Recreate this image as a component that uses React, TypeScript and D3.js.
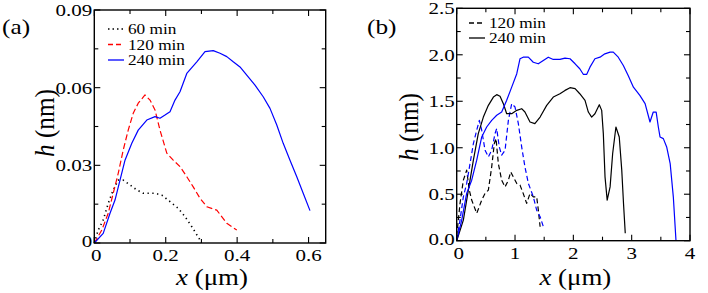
import React from "react";
import * as d3 from "d3";

type P = [number, number];

// Panel (a)
const a60: P[] = [[0,0],[0.011,0.005],[0.025,0.0089],[0.039,0.0153],[0.053,0.0205],[0.067,0.0243],[0.081,0.0243],[0.1,0.0224],[0.119,0.0205],[0.137,0.0192],[0.17,0.0192],[0.189,0.0185],[0.212,0.016],[0.235,0.0134],[0.254,0.0102],[0.273,0.0063],[0.296,0.0012],[0.3,0]];
const a120: P[] = [[0,0],[0.021,0.005],[0.039,0.0115],[0.053,0.0192],[0.067,0.0269],[0.081,0.0359],[0.095,0.0436],[0.109,0.0501],[0.123,0.054],[0.142,0.0572],[0.156,0.0552],[0.17,0.0514],[0.184,0.0436],[0.203,0.0347],[0.221,0.032],[0.24,0.0295],[0.259,0.0256],[0.277,0.0217],[0.296,0.0173],[0.315,0.014],[0.343,0.0127],[0.371,0.0076],[0.399,0.005]];
const a240: P[] = [[0,0],[0.025,0.0037],[0.044,0.0115],[0.058,0.0166],[0.072,0.0243],[0.086,0.032],[0.105,0.0385],[0.123,0.0436],[0.147,0.0475],[0.17,0.0488],[0.184,0.0482],[0.198,0.0494],[0.212,0.0507],[0.226,0.0552],[0.24,0.0584],[0.259,0.0655],[0.287,0.07],[0.31,0.0739],[0.333,0.0743],[0.352,0.0733],[0.371,0.072],[0.389,0.07],[0.408,0.068],[0.431,0.0642],[0.45,0.061],[0.473,0.0565],[0.492,0.052],[0.511,0.0456],[0.529,0.0385],[0.548,0.032],[0.567,0.0256],[0.585,0.0192],[0.604,0.0125]];

// Panel (b)
const b120black: P[] = [[0,0.05],[0.057,0.401],[0.114,0.651],[0.171,0.759],[0.216,0.544],[0.257,0.437],[0.343,0.294],[0.429,0.437],[0.486,0.509],[0.543,0.544],[0.6,0.794],[0.645,1.045],[0.674,1.098],[0.714,0.83],[0.771,0.651],[0.829,0.579],[0.886,0.651],[0.926,0.74],[0.97,0.687],[1.03,0.616],[1.086,0.598],[1.14,0.509],[1.2,0.401],[1.257,0.509],[1.314,0.472],[1.371,0.472],[1.4,0.329],[1.43,0.15]];
const b120blue: P[] = [[0,0.01],[0.057,0.222],[0.114,0.472],[0.171,0.616],[0.229,0.83],[0.286,1.045],[0.343,1.188],[0.388,1.295],[0.429,1.188],[0.486,0.973],[0.543,0.902],[0.6,0.973],[0.657,1.152],[0.686,1.206],[0.73,1.009],[0.771,0.92],[0.829,0.973],[0.886,1.295],[0.943,1.474],[1.0,1.438],[1.057,1.259],[1.114,1.009],[1.17,0.794],[1.229,0.616],[1.314,0.472],[1.371,0.329],[1.43,0.258],[1.486,0.15]];
const b240black: P[] = [[0,0],[0.114,0.222],[0.2,0.544],[0.286,0.866],[0.37,1.152],[0.457,1.33],[0.543,1.456],[0.629,1.545],[0.686,1.571],[0.743,1.553],[0.8,1.474],[0.857,1.366],[0.943,1.366],[1.03,1.402],[1.114,1.42],[1.17,1.384],[1.257,1.277],[1.34,1.259],[1.43,1.33],[1.543,1.456],[1.656,1.545],[1.77,1.581],[1.857,1.617],[1.943,1.646],[2.03,1.635],[2.11,1.581],[2.2,1.51],[2.257,1.384],[2.314,1.33],[2.37,1.366],[2.445,1.463],[2.486,1.402],[2.514,1.152],[2.543,0.687],[2.58,0.437],[2.63,0.579],[2.674,0.938],[2.73,1.223],[2.787,1.116],[2.83,0.759],[2.86,0.401],[2.89,0.08]];
const b240blue: P[] = [[0,0],[0.086,0.222],[0.171,0.509],[0.257,0.651],[0.343,0.866],[0.429,1.116],[0.514,1.223],[0.6,1.295],[0.686,1.349],[0.771,1.384],[0.857,1.51],[0.943,1.652],[1.03,1.796],[1.085,1.957],[1.14,1.974],[1.228,1.974],[1.313,1.92],[1.399,1.903],[1.485,1.939],[1.57,1.974],[1.656,1.95],[1.77,1.95],[1.857,1.964],[1.943,1.957],[2.03,1.903],[2.11,1.85],[2.17,1.79],[2.23,1.79],[2.285,1.867],[2.37,1.957],[2.457,1.974],[2.54,2.01],[2.63,2.028],[2.685,2.028],[2.77,1.974],[2.857,1.885],[2.94,1.778],[3.03,1.652],[3.14,1.563],[3.23,1.474],[3.314,1.277],[3.37,1.384],[3.42,1.384],[3.457,1.223],[3.486,1.116],[3.543,1.098],[3.6,1.009],[3.66,0.83],[3.714,0.472],[3.76,0]];

const aXTicks = [0, 0.2, 0.4, 0.6];
const aXLabels = ["0", "0.2", "0.4", "0.6"];
const aXMinor = [0.1, 0.3, 0.5];
const aYTicks = [0, 0.03, 0.06, 0.09];
const aYLabels = ["0", "0.03", "0.06", "0.09"];
const aYMinor = [0.015, 0.045, 0.075];

const bXTicks = [0, 1, 2, 3, 4];
const bXLabels = ["0", "1", "2", "3", "4"];
const bXMinor = [0.5, 1.5, 2.5, 3.5];
const bYTicks = [0, 0.5, 1, 1.5, 2, 2.5];
const bYLabels = ["0.0", "0.5", "1.0", "1.5", "2.0", "2.5"];
const bYMinor = [0.25, 0.75, 1.25, 1.75, 2.25];

const legendA = ["60 min", "120 min", "240 min"];
const legendB = ["120 min", "240 min"];

const FONT = "Liberation Serif";

type Series = { data: P[]; color: string; dash?: string; width?: number };

function Panel(props: {
  x0: number; x1: number; y0: number; y1: number;
  xDom: [number, number]; yDom: [number, number];
  xTicks: number[]; xLabels: string[]; xMinor: number[];
  yTicks: number[]; yLabels: string[]; yMinor: number[];
  series: Series[];
  tag: string; tagX: number;
  yLabelX: number; yLabelY: number;
  legend: { text: string; color: string; dash?: string }[];
  legX: number; legY: number; legDy: number;
}) {
  const p = props;
  const xs = d3.scaleLinear().domain(p.xDom).range([p.x0, p.x1]);
  const ys = d3.scaleLinear().domain(p.yDom).range([p.y0, p.y1]);
  const line = d3.line<P>().x((d) => xs(d[0])).y((d) => ys(d[1]));
  const maj = 6, mnr = 4;
  const sx = 1.2;
  return (
    <g fontFamily={FONT}>
      {p.series.map((s, i) => (
        <path key={i} d={line(s.data) || ""} fill="none" stroke={s.color}
          strokeWidth={s.width ?? 1.2} strokeDasharray={s.dash} strokeLinejoin="round" />
      ))}
      <rect x={p.x0} y={p.y1} width={p.x1 - p.x0} height={p.y0 - p.y1}
        fill="none" stroke="#000" strokeWidth={1.4} />
      {p.xTicks.map((t, i) => (
        <g key={"xt" + i}>
          <line x1={xs(t)} x2={xs(t)} y1={p.y0} y2={p.y0 - maj} stroke="#000" strokeWidth={1.1} />
          <line x1={xs(t)} x2={xs(t)} y1={p.y1} y2={p.y1 + maj} stroke="#000" strokeWidth={1.1} />
          <text transform={`translate(${xs(t) + (i === 0 ? 2 : 0)},${p.y0 + 18}) scale(${sx},1)`} textAnchor="middle"
            fontFamily={FONT} fontSize={17.5}>{p.xLabels[i]}</text>
        </g>
      ))}
      {p.xMinor.map((t, i) => (
        <g key={"xm" + i}>
          <line x1={xs(t)} x2={xs(t)} y1={p.y0} y2={p.y0 - mnr} stroke="#000" strokeWidth={1.1} />
          <line x1={xs(t)} x2={xs(t)} y1={p.y1} y2={p.y1 + mnr} stroke="#000" strokeWidth={1.1} />
        </g>
      ))}
      {p.yTicks.map((t, i) => (
        <g key={"yt" + i}>
          <line x1={p.x0} x2={p.x0 + maj} y1={ys(t)} y2={ys(t)} stroke="#000" strokeWidth={1.1} />
          <line x1={p.x1} x2={p.x1 - maj} y1={ys(t)} y2={ys(t)} stroke="#000" strokeWidth={1.1} />
          <text transform={`translate(${p.x0 - 2},${ys(t) + (i === 0 ? 4 : 6)}) scale(${sx},1)`} textAnchor="end"
            fontFamily={FONT} fontSize={17.5}>{p.yLabels[i]}</text>
        </g>
      ))}
      {p.yMinor.map((t, i) => (
        <g key={"ym" + i}>
          <line x1={p.x0} x2={p.x0 + mnr} y1={ys(t)} y2={ys(t)} stroke="#000" strokeWidth={1.1} />
          <line x1={p.x1} x2={p.x1 - mnr} y1={ys(t)} y2={ys(t)} stroke="#000" strokeWidth={1.1} />
        </g>
      ))}
      <text transform={`translate(${(p.x0 + p.x1) / 2 + 2},${285}) scale(1.12,1)`} textAnchor="middle"
        fontFamily={FONT} fontSize={24}>
        <tspan fontStyle="italic">x</tspan> (μm)
      </text>
      <text transform={`translate(${p.yLabelX},${p.yLabelY}) rotate(-90) scale(1.05,1.12)`} textAnchor="middle"
        fontFamily={FONT} fontSize={24}>
        <tspan fontStyle="italic">h</tspan> (nm)
      </text>
      <text transform={`translate(${p.tagX},${34}) scale(1.15,1)`} fontFamily={FONT} fontSize={22}>{p.tag}</text>
      {p.legend.map((l, i) => (
        <g key={"lg" + i}>
          <line x1={p.legX} x2={p.legX + 16} y1={p.legY + i * p.legDy - 5} y2={p.legY + i * p.legDy - 5}
            stroke={l.color} strokeWidth={1.3} strokeDasharray={l.dash} />
          <text transform={`translate(${p.legX + 20},${p.legY + i * p.legDy}) scale(1.15,1)`}
            fontFamily={FONT} fontSize={15}>{l.text}</text>
        </g>
      ))}
    </g>
  );
}

export default function App() {
  return (
    <svg width={708} height={293} fontFamily={FONT}
      style={{ position: "absolute", left: 0, top: 0, background: "#fff" }}>
      <Panel x0={94.3} x1={325.7} y0={243} y1={10}
        xDom={[0, 0.648]} yDom={[0, 0.09]}
        xTicks={aXTicks} xLabels={aXLabels} xMinor={aXMinor}
        yTicks={aYTicks} yLabels={aYLabels} yMinor={aYMinor}
        series={[
          { data: a60, color: "#000", dash: "1.3,3.5", width: 1.6 },
          { data: a120, color: "#ff0000", dash: "6,3" },
          { data: a240, color: "#0000ff" },
        ]}
        tag="(a)" tagX={2} yLabelX={54} yLabelY={123}
        legend={[
          { text: legendA[0], color: "#000", dash: "1.5,3" },
          { text: legendA[1], color: "#ff0000", dash: "5,3" },
          { text: legendA[2], color: "#0000ff" },
        ]}
        legX={108} legY={34} legDy={15.5}
      />
      <Panel x0={456.7} x1={690} y0={240.7} y1={8.3}
        xDom={[0, 4]} yDom={[0, 2.5]}
        xTicks={bXTicks} xLabels={bXLabels} xMinor={bXMinor}
        yTicks={bYTicks} yLabels={bYLabels} yMinor={bYMinor}
        series={[
          { data: b120black, color: "#000", dash: "5,3" },
          { data: b120blue, color: "#0000ff", dash: "5,3" },
          { data: b240black, color: "#000" },
          { data: b240blue, color: "#0000ff" },
        ]}
        tag="(b)" tagX={367} yLabelX={418} yLabelY={127}
        legend={[
          { text: legendB[0], color: "#000", dash: "5,3" },
          { text: legendB[1], color: "#000" },
        ]}
        legX={469} legY={28} legDy={15}
      />
    </svg>
  );
}
